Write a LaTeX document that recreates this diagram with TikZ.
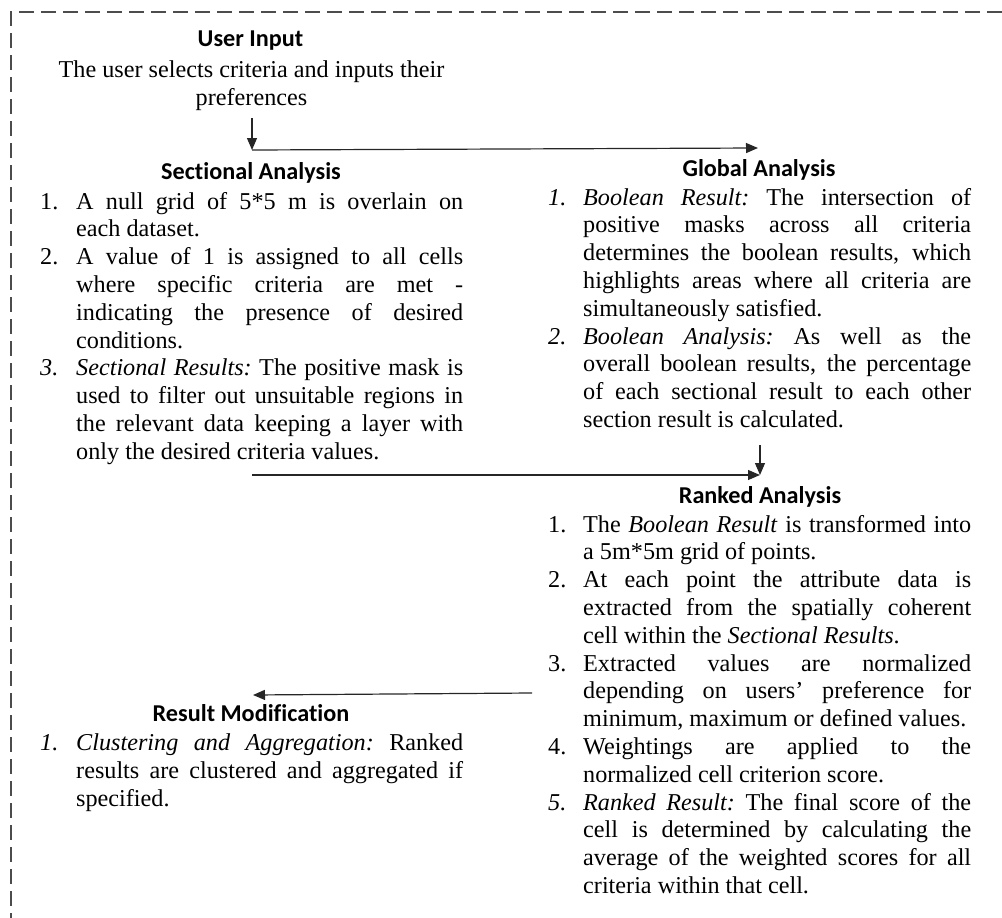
\documentclass[tikz,border=0pt]{standalone}
\usepackage{fontspec}
\setmainfont{Liberation Serif}
\newfontfamily\hfont{Carlito}[Ligatures=NoCommon]
\usetikzlibrary{arrows.meta}
\newlength\colw
\newlength\labw
\newcommand\labbox[1]{\hbox to\labw{#1\hfil}}
\newcommand\JL[1]{\hbox to\colw{\spaceskip=.25em plus 1fill minus .05em\xspaceskip=\spaceskip\relax #1}}
\newcommand\FL[1]{\hbox to\colw{#1\hfil}}
\newcommand\ItemL[2]{\hbox{\labbox{#1}#2}}
\newcommand\ContL[1]{\hbox{\hskip\labw #1}}
\tikzset{
  heading/.style={font=\hfont\bfseries\fontsize{24.2}{29}\selectfont, inner sep=0pt, anchor=base},
  body/.style={font=\fontsize{24.2}{27.8}\selectfont, inner sep=0pt, anchor=base west},
  bodyc/.style={font=\fontsize{24.2}{27.8}\selectfont, inner sep=0pt, anchor=base},
  flow/.style={-{Triangle[length=12pt,width=10pt]}, line width=1.2pt, draw=black!85},
  border/.style={dash pattern=on 15pt off 7pt, line width=2pt, draw=black!70}
}
\begin{document}
\begin{tikzpicture}[x=1pt,y=-1pt]
\useasboundingbox (0,0) rectangle (1002,918);
% dashed frame (top and left edges visible)
\coordinate (frTR) at (1002,12);
\coordinate (frTL) at (11,12);
\coordinate (frBL) at (11,918);
\draw[border] (frTR) -- (frTL) -- (frBL);

% User input
\node[heading] (uih) at (250.5,46.7) {User Input};
\node[bodyc] (uit) at (251.5,77.5) {\vtop{\baselineskip=28.3pt\lineskiplimit=-100pt
  \hbox to 420pt{\hfil The user selects criteria and inputs their\hfil}
  \hbox to 420pt{\hfil preferences\hfil}}};

% Sectional analysis
\node[heading] (sah) at (251,179.3) {Sectional Analysis};
\node[body] (sat) at (40,209) {\setlength\labw{36pt}\setlength\colw{387pt}\vtop{\baselineskip=27.8pt\lineskiplimit=-100pt
  \ItemL{1.}{\JL{A null grid of 5*5 m is overlain on}}
  \ContL{\FL{each dataset.}}
  \ItemL{2.}{\JL{A value of 1 is assigned to all cells}}
  \ContL{\JL{where specific criteria are met -}}
  \ContL{\JL{indicating the presence of desired}}
  \ContL{\FL{conditions.}}
  \ItemL{\textit{3.}}{\JL{\textit{Sectional Results:} The positive mask is}}
  \ContL{\JL{used to filter out unsuitable regions in}}
  \ContL{\JL{the relevant data keeping a layer with}}
  \ContL{\FL{only the desired criteria values.}}}};

% Global analysis
\node[heading] (gah) at (759,176.7) {Global Analysis};
\node[body] (gat) at (548,205) {\setlength\labw{35pt}\setlength\colw{388pt}\vtop{\baselineskip=27.8pt\lineskiplimit=-100pt
  \ItemL{\textit{1.}}{\JL{\textit{Boolean Result:} The intersection of}}
  \ContL{\JL{positive masks across all criteria}}
  \ContL{\JL{determines the boolean results, which}}
  \ContL{\JL{highlights areas where all criteria are}}
  \ContL{\FL{simultaneously satisfied.}}
  \ItemL{\textit{2.}}{\JL{\textit{Boolean Analysis:} As well as the}}
  \ContL{\JL{overall boolean results, the percentage}}
  \ContL{\JL{of each sectional result to each other}}
  \ContL{\FL{section result is calculated.}}}};

% Ranked analysis
\node[heading] (rah) at (760,503) {Ranked Analysis};
\node[body] (rat) at (548,532) {\setlength\labw{35pt}\setlength\colw{388pt}\vtop{\baselineskip=27.8pt\lineskiplimit=-100pt
  \ItemL{1.}{\JL{The \textit{Boolean Result} is transformed into}}
  \ContL{\FL{a 5m*5m grid of points.}}
  \ItemL{2.}{\JL{At each point the attribute data is}}
  \ContL{\JL{extracted from the spatially coherent}}
  \ContL{\FL{cell within the \textit{Sectional Results}.}}
  \ItemL{3.}{\JL{Extracted values are normalized}}
  \ContL{\JL{depending on users’ preference for}}
  \ContL{\FL{minimum, maximum or defined values.}}
  \ItemL{4.}{\JL{Weightings are applied to the}}
  \ContL{\FL{normalized cell criterion score.}}
  \ItemL{\textit{5.}}{\JL{\textit{Ranked Result:} The final score of the}}
  \ContL{\JL{cell is determined by calculating the}}
  \ContL{\JL{average of the weighted scores for all}}
  \ContL{\FL{criteria within that cell.}}}};

% Result modification
\node[heading] (rmh) at (251,721.6) {Result Modification};
\node[body] (rmt) at (40,750.4) {\setlength\labw{36pt}\setlength\colw{387pt}\vtop{\baselineskip=27.8pt\lineskiplimit=-100pt
  \ItemL{\textit{1.}}{\JL{\textit{Clustering and Aggregation:} Ranked}}
  \ContL{\JL{results are clustered and aggregated if}}
  \ContL{\FL{specified.}}}};

% connectors
\coordinate (c1a) at (252,118);
\coordinate (c1b) at (252,150);
\coordinate (c1c) at (758,148);
\coordinate (c2a) at (760,445);
\coordinate (c2b) at (760,475);
\coordinate (c2c) at (252,475);
\coordinate (c3a) at (532,693);
\coordinate (c3b) at (253,695);
\draw[flow] (c1a) -- (c1b);
\draw[flow] (c1b) -- (c1c);
\draw[flow] (c2a) -- (c2b);
\draw[flow] (c2c) -- (c2b);
\draw[flow] (c3a) -- (c3b);
\end{tikzpicture}
\end{document}
